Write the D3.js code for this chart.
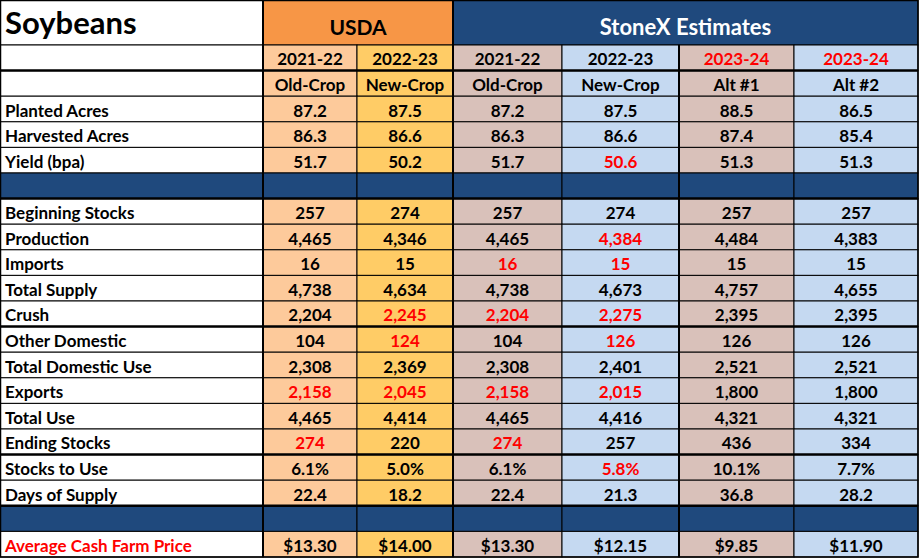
<!DOCTYPE html>
<html>
<head>
<meta charset="utf-8">
<script src="https://cdn.jsdelivr.net/npm/d3@7"></script>
<style>
  body { margin: 0; background: #fff; }
  svg text { font-family: Lato, "Open Sans", sans-serif; font-weight: 700; }
</style>
</head>
<body>
<div class="chart"></div>
<script>
// rows ("" = blue spacer row)
const rowLabels = ["Planted Acres", "Harvested Acres", "Yield (bpa)", "",
  "Beginning Stocks", "Production", "Imports", "Total Supply", "Crush",
  "Other Domestic", "Total Domestic Use", "Exports", "Total Use", "Ending Stocks",
  "Stocks to Use", "Days of Supply", "", "Average Cash Farm Price"];
const rowFormats = ["d1", "d1", "d1", null, "int", "int", "int", "int", "int",
  "int", "int", "int", "int", "int", "pct", "d1", null, "usd"];

const years = ["2021-22", "2022-23", "2021-22", "2022-23", "2023-24", "2023-24"];
const crops = ["Old-Crop", "New-Crop", "Old-Crop", "New-Crop", "Alt #1", "Alt #2"];
const redYears = [4, 5];

// series values
const usda2122 = [87.2, 86.3, 51.7, null, 257, 4465, 16, 4738, 2204, 104, 2308, 2158, 4465, 274, 6.1, 22.4, null, 13.30];
const usda2223 = [87.5, 86.6, 50.2, null, 274, 4346, 15, 4634, 2245, 124, 2369, 2045, 4414, 220, 5.0, 18.2, null, 14.00];
const sx2122   = [87.2, 86.3, 51.7, null, 257, 4465, 16, 4738, 2204, 104, 2308, 2158, 4465, 274, 6.1, 22.4, null, 13.30];
const sx2223   = [87.5, 86.6, 50.6, null, 274, 4384, 15, 4673, 2275, 126, 2401, 2015, 4416, 257, 5.8, 21.3, null, 12.15];
const alt1     = [88.5, 87.4, 51.3, null, 257, 4484, 15, 4757, 2395, 126, 2521, 1800, 4321, 436, 10.1, 36.8, null, 9.85];
const alt2     = [86.5, 85.4, 51.3, null, 257, 4383, 15, 4655, 2395, 126, 2521, 1800, 4321, 334, 7.7, 28.2, null, 11.90];

// rows shown in red, per column
const red2122usda = ["Exports", "Ending Stocks"];
const red2223usda = ["Crush", "Other Domestic", "Exports"];
const red2122sx   = ["Imports", "Crush", "Exports", "Ending Stocks"];
const red2223sx   = ["Yield (bpa)", "Production", "Imports", "Crush", "Other Domestic", "Exports", "Stocks to Use"];
const redAlt1 = [];
const redAlt2 = [];

const series = [usda2122, usda2223, sx2122, sx2223, alt1, alt2];
const redRows = [red2122usda, red2223usda, red2122sx, red2223sx, redAlt1, redAlt2];

// layout
const W = 920, H = 559;
const colEdges = [0, 263, 357, 453, 562, 679, 794, 918];
const colFill = ["#fdca9b", "#ffcc66", "#d9c1ba", "#c5d9f1", "#d9c1ba", "#c5d9f1"];
const navy = "#1f497d", orange = "#f79646", redText = "#ff0000";
const titleH = 45;
const fs = 17;
const dy = "0.45em";

const fmt = {
  d1: d3.format(".1f"),
  int: d3.format(","),
  pct: v => d3.format(".1f")(v) + "%",
  usd: v => "$" + d3.format(".2f")(v)
};

const svg = d3.select(".chart").append("svg")
  .attr("width", W).attr("height", H);

const y = d3.scaleBand()
  .domain(d3.range(2 + rowLabels.length))
  .range([titleH, 557]);

const x0 = i => colEdges[i];
const cw = i => colEdges[i + 1] - colEdges[i];
const cx = i => (colEdges[i] + colEdges[i + 1]) / 2;

const cells = svg.append("g");

// title row
cells.append("rect").attr("x", 0).attr("y", 0).attr("width", cw(0)).attr("height", titleH)
  .attr("fill", "#fff").attr("stroke", "#000");
cells.append("rect").attr("x", x0(1)).attr("y", 0).attr("width", colEdges[3] - colEdges[1]).attr("height", titleH)
  .attr("fill", orange).attr("stroke", "#000");
cells.append("rect").attr("x", x0(3)).attr("y", 0).attr("width", colEdges[7] - colEdges[3]).attr("height", titleH)
  .attr("fill", navy).attr("stroke", "#000");

svg.append("text").attr("x", 5).attr("y", 34).attr("font-size", 31).text("Soybeans");
svg.append("text").attr("x", (colEdges[1] + colEdges[3]) / 2).attr("y", 35)
  .attr("text-anchor", "middle").attr("font-size", 21).text("USDA");
svg.append("text").attr("x", (colEdges[3] + colEdges[7]) / 2).attr("y", 35)
  .attr("text-anchor", "middle").attr("font-size", 22).attr("fill", "#fff").text("StoneX Estimates");

// header rows
const headRows = [years, crops];
headRows.forEach((arr, r) => {
  cells.append("rect").attr("x", 0).attr("y", y(r)).attr("width", cw(0)).attr("height", y.bandwidth())
    .attr("fill", "#fff").attr("stroke", "#000");
  arr.forEach((t, c) => {
    cells.append("rect").attr("x", x0(c + 1)).attr("y", y(r)).attr("width", cw(c + 1)).attr("height", y.bandwidth())
      .attr("fill", colFill[c]).attr("stroke", "#000");
    svg.append("text").attr("x", cx(c + 1)).attr("y", y(r) + y.bandwidth() / 2)
      .attr("dy", dy).attr("text-anchor", "middle").attr("font-size", fs)
      .attr("fill", r === 0 && redYears.includes(c) ? redText : "#000")
      .text(t);
  });
});

// body rows
rowLabels.forEach((lab, i) => {
  const r = i + 2;
  const blank = lab === "";
  cells.append("rect").attr("x", 0).attr("y", y(r)).attr("width", cw(0)).attr("height", y.bandwidth())
    .attr("fill", blank ? navy : "#fff").attr("stroke", "#000");
  if (!blank) {
    svg.append("text").attr("x", 5).attr("y", y(r) + y.bandwidth() / 2).attr("dy", dy)
      .attr("font-size", fs)
      .attr("fill", lab === "Average Cash Farm Price" ? redText : "#000")
      .text(lab);
  }
  series.forEach((vals, c) => {
    cells.append("rect").attr("x", x0(c + 1)).attr("y", y(r)).attr("width", cw(c + 1)).attr("height", y.bandwidth())
      .attr("fill", blank ? navy : colFill[c]).attr("stroke", "#000");
    if (!blank && vals[i] != null) {
      svg.append("text").attr("x", cx(c + 1)).attr("y", y(r) + y.bandwidth() / 2).attr("dy", dy)
        .attr("text-anchor", "middle").attr("font-size", fs)
        .attr("fill", redRows[c].includes(lab) ? redText : "#000")
        .text(fmt[rowFormats[i]](vals[i]));
    }
  });
});

// heavy rules
const thickAfter = [0, 5, 10, 15, 17]; // band index whose bottom edge is heavy
const rules = svg.append("g").attr("stroke", "#000").attr("stroke-width", 2.5);
thickAfter.forEach(r => {
  const yy = y(r) + y.bandwidth();
  rules.append("line").attr("x1", 0).attr("x2", colEdges[7]).attr("y1", yy).attr("y2", yy);
});
[[1, 0], [3, 0], [5, titleH]].forEach(([c, top]) => {
  rules.append("line").attr("x1", colEdges[c]).attr("x2", colEdges[c])
    .attr("y1", top).attr("y2", 557).attr("stroke-width", 2);
});
svg.append("rect").attr("x", 0.5).attr("y", 0.5).attr("width", colEdges[7] - 0.5).attr("height", 556.5)
  .attr("fill", "none").attr("stroke", "#000").attr("stroke-width", 1.5);
</script>
</body>
</html>
